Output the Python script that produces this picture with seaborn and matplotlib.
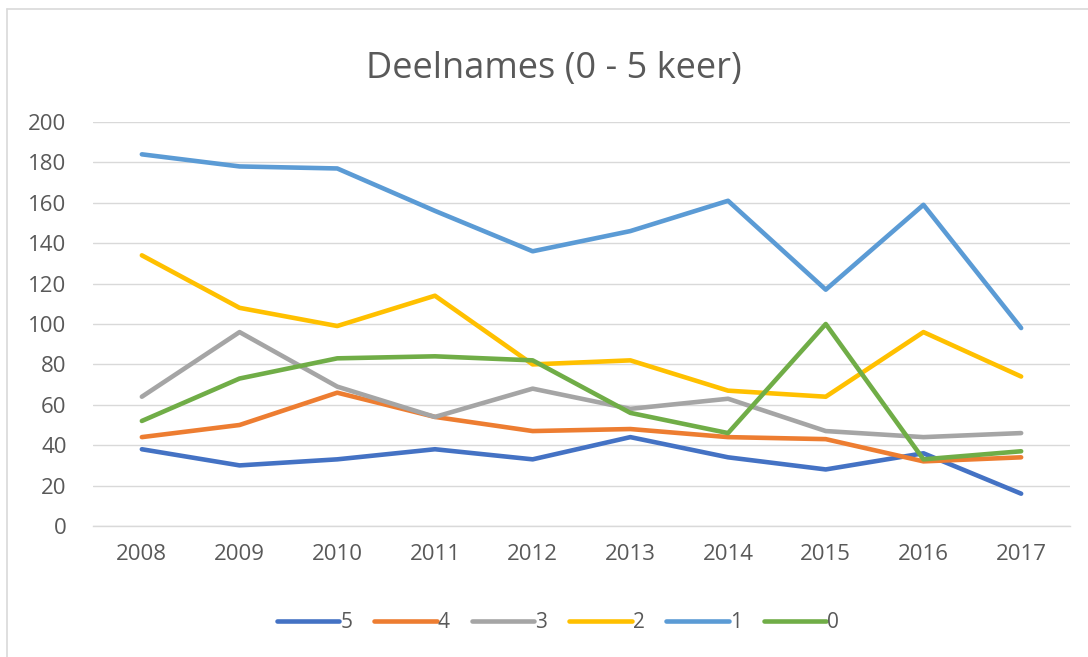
import matplotlib
matplotlib.use("Agg")
import matplotlib.pyplot as plt
import seaborn as sns
import pandas as pd
from matplotlib.lines import Line2D

years = [2008, 2009, 2010, 2011, 2012, 2013, 2014, 2015, 2016, 2017]
series_names = ["5", "4", "3", "2", "1", "0"]
s5 = [38, 30, 33, 38, 33, 44, 34, 28, 36, 16]
s4 = [44, 50, 66, 54, 47, 48, 44, 43, 32, 34]
s3 = [64, 96, 69, 54, 68, 58, 63, 47, 44, 46]
s2 = [134, 108, 99, 114, 80, 82, 67, 64, 96, 74]
s1 = [184, 178, 177, 156, 136, 146, 161, 117, 159, 98]
s0 = [52, 73, 83, 84, 82, 56, 46, 100, 33, 37]
colors = ["#4472C4", "#ED7D31", "#A5A5A5", "#FFC000", "#5B9BD5", "#70AD47"]
y_ticks = [0, 20, 40, 60, 80, 100, 120, 140, 160, 180, 200]
title = "Deelnames (0 - 5 keer)"

values = [s5, s4, s3, s2, s1, s0]
rows = []
for name, vals in zip(series_names, values):
    for yr, v in zip(years, vals):
        rows.append({"year": yr, "count": v, "serie": name})
df = pd.DataFrame(rows)

sns.set_theme(style="white")
plt.rcParams["font.family"] = ["Open Sans", "DejaVu Sans"]

fig = plt.figure(figsize=(10.88, 6.57), dpi=100)
ax = fig.add_axes([93 / 1088, 1 - 526 / 657, 977 / 1088, 404 / 657])

sns.lineplot(data=df, x="year", y="count", hue="serie", hue_order=series_names,
             palette=colors, linewidth=3.3, ax=ax, legend=False,
             solid_capstyle="round", solid_joinstyle="round")

ax.set_xlim(2007.5, 2017.5)
ax.set_ylim(0, 200)
ax.set_yticks(y_ticks)
ax.set_xticks(years)
ax.set_xticklabels([str(y) for y in years])
ax.grid(axis="y", color="#D9D9D9", linewidth=1)
ax.set_axisbelow(True)
for sp in ["top", "right", "left"]:
    ax.spines[sp].set_visible(False)
ax.spines["bottom"].set_color("#D9D9D9")
ax.spines["bottom"].set_linewidth(1)
ax.tick_params(axis="both", length=0, labelsize=16, labelcolor="#595959")
ax.tick_params(axis="x", pad=13)
ax.tick_params(axis="y", pad=19)
ax.set_xlabel("")
ax.set_ylabel("")

fig.text(554 / 1088, 1 - 69 / 657, title, ha="center", va="center", fontsize=26, color="#595959")

handles = [Line2D([0], [0], color=c, linewidth=3.3, solid_capstyle="round") for c in colors]
fig.legend(handles, series_names, loc="center", bbox_to_anchor=(558 / 1088, 1 - 623 / 657), ncol=6,
           frameon=False, fontsize=15, labelcolor="#595959", handlelength=3.0,
           handletextpad=0.05, columnspacing=1.05, borderaxespad=0, borderpad=0)

# chart frame (visible on left and top edges)
fig.add_artist(Line2D([7 / 1088, 7 / 1088], [0, 1 - 9 / 657], transform=fig.transFigure,
                      color="#D9D9D9", linewidth=1.2))
fig.add_artist(Line2D([7 / 1088, 1], [1 - 9 / 657, 1 - 9 / 657], transform=fig.transFigure,
                      color="#D9D9D9", linewidth=1.2))

fig.savefig("out.png", dpi=100)
